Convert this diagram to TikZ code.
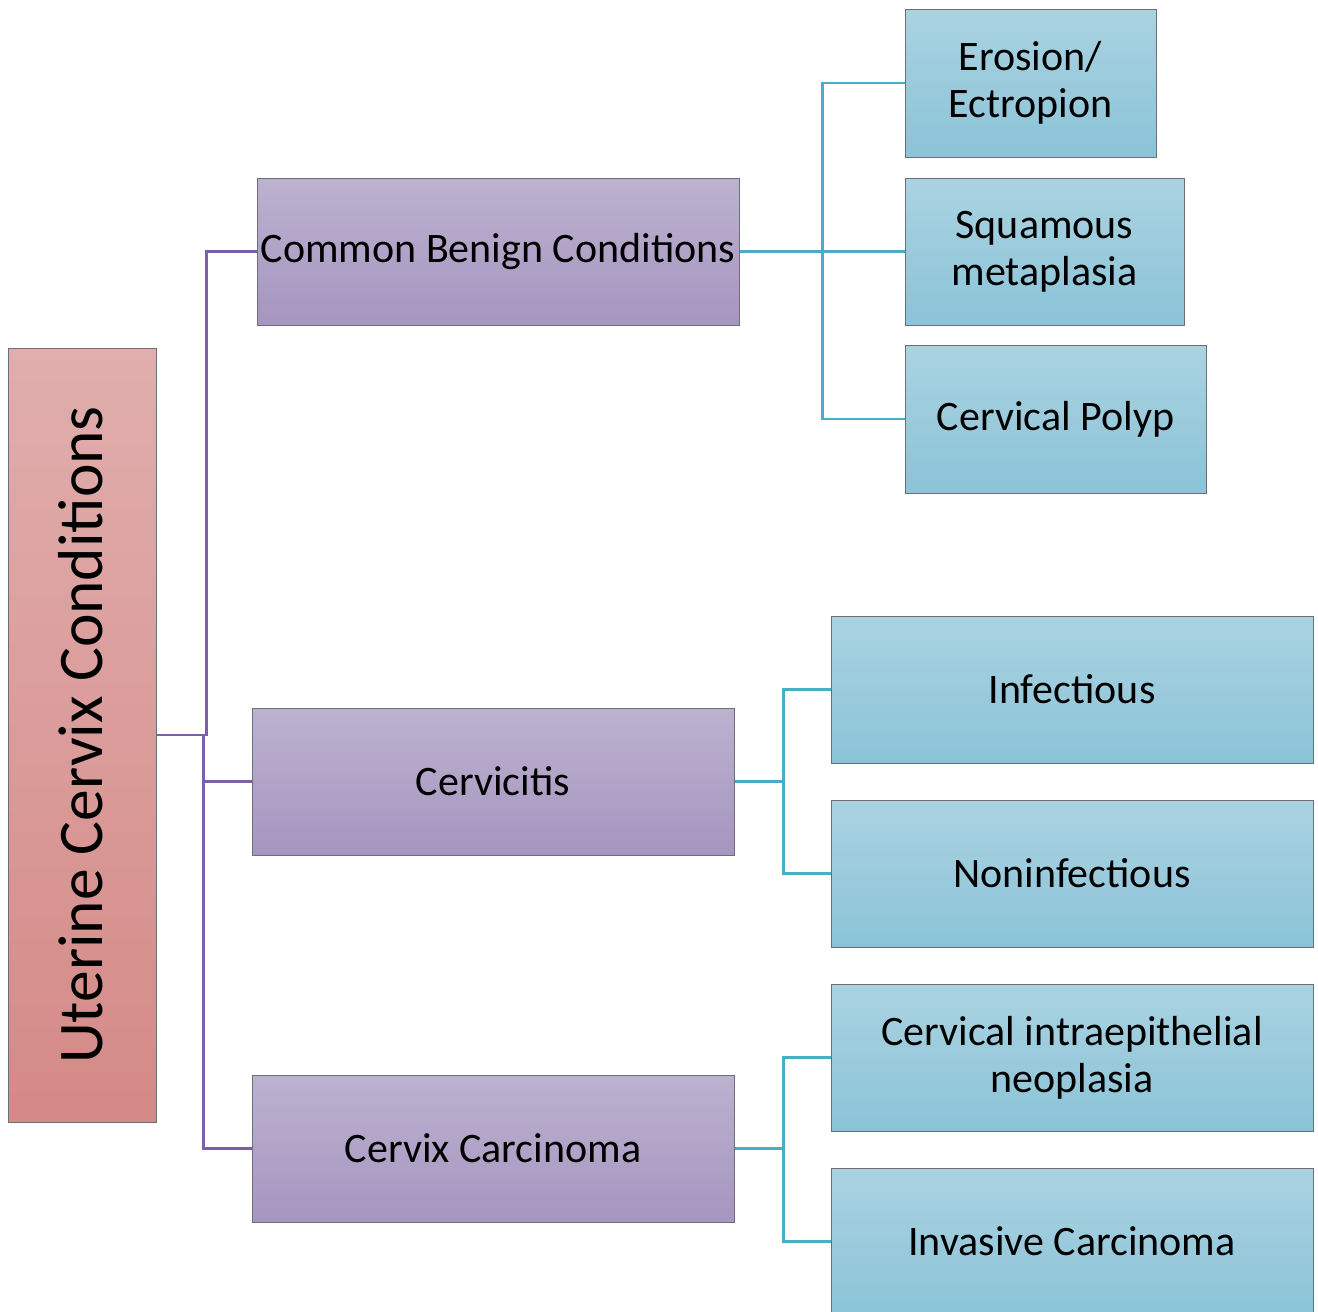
\documentclass[tikz,border=0pt]{standalone}
\usepackage{fontspec}
\setmainfont{Carlito}
\definecolor{rootTop}{HTML}{E0AEAD}
\definecolor{rootBot}{HTML}{D48A87}
\definecolor{midTop}{HTML}{BCB2CF}
\definecolor{midBot}{HTML}{A695C0}
\definecolor{leafTop}{HTML}{AAD3E1}
\definecolor{leafBot}{HTML}{8BC3D8}
\definecolor{frame}{HTML}{6E6E78}
\definecolor{purpleline}{HTML}{7D60AA}
\definecolor{blueline}{HTML}{4BACC6}
\begin{document}
\begin{tikzpicture}[x=1pt, y=-1pt,
  box/.style={rectangle, draw=frame, line width=1pt, inner sep=0pt, align=center,
    font=\fontsize{42}{47}\selectfont},
  rootbox/.style={box, top color=rootTop, bottom color=rootBot},
  midbox/.style={box, top color=midTop, bottom color=midBot},
  leafbox/.style={box, top color=leafTop, bottom color=leafBot},
  pline/.style={draw=purpleline, line width=2.2pt},
  bline/.style={draw=blueline, line width=2.4pt}]
  \useasboundingbox (0,0) rectangle (1318,1312);
  % root
  \node[rootbox, minimum width=148pt, minimum height=774pt] (root) at (82,735) {};
  \node[rotate=90, font=\fontsize{63.5}{70}\selectfont] (rootlbl) at (81,735) {Uterine Cervix Conditions};
  % second level
  \node[midbox, minimum width=482pt, minimum height=147pt] (benign) at (498,251.5) {Common Benign Conditions};
  \node[midbox, minimum width=482pt, minimum height=147pt] (cervicitis) at (493,781.5) {Cervicitis};
  \node[midbox, minimum width=482pt, minimum height=147pt] (carcinoma) at (493,1148.5) {Cervix Carcinoma};
  % leaves
  \node[leafbox, minimum width=251pt, minimum height=148pt] (erosion) at (1030.5,83) {Erosion/\\Ectropion};
  \node[leafbox, minimum width=279pt, minimum height=147pt] (squamous) at (1044.5,251.5) {Squamous\\metaplasia};
  \node[leafbox, minimum width=301pt, minimum height=148pt] (polyp) at (1055.5,419) {Cervical Polyp};
  \node[leafbox, minimum width=482pt, minimum height=147pt] (infect) at (1072,689.5) {Infectious};
  \node[leafbox, minimum width=482pt, minimum height=147pt] (noninfect) at (1072,873.5) {Noninfectious};
  \node[leafbox, minimum width=482pt, minimum height=147pt] (cin) at (1072,1057.5) {Cervical intraepithelial\\neoplasia};
  \node[leafbox, minimum width=482pt, minimum height=147pt] (invasive) at (1072,1241.5) {Invasive Carcinoma};
  % connectors
  \draw[pline] (root.east) -- ++(50,0) |- (benign.west);
  \draw[pline] (root.east) -- ++(47,0) |- (cervicitis.west);
  \draw[pline] (root.east) -- ++(47,0) |- (carcinoma.west);
  \draw[bline] (benign.east) -- ++(83,0) |- (erosion.west);
  \draw[bline] (benign.east) -- (squamous.west);
  \draw[bline] (benign.east) -- ++(83,0) |- (polyp.west);
  \draw[bline] (cervicitis.east) -- ++(49,0) |- (infect.west);
  \draw[bline] (cervicitis.east) -- ++(49,0) |- (noninfect.west);
  \draw[bline] (carcinoma.east) -- ++(49,0) |- (cin.west);
  \draw[bline] (carcinoma.east) -- ++(49,0) |- (invasive.west);
\end{tikzpicture}
\end{document}
